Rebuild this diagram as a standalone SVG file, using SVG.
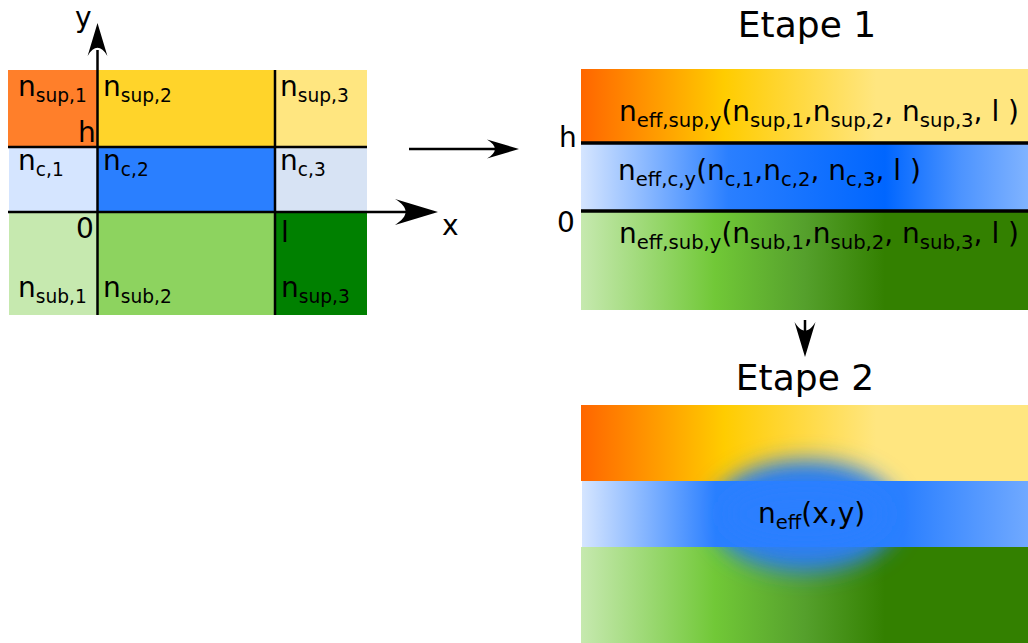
<svg xmlns="http://www.w3.org/2000/svg" xmlns:xlink="http://www.w3.org/1999/xlink" width="1028" height="643" viewBox="0 0 1028 643">
<style>
text{font-family:"DejaVu Sans",sans-serif;fill:#000}
.m{font-size:28px}
.s{font-size:18.6px}
.r{font-size:28px}
.rs{font-size:19.6px}
.t{font-size:36px}
.ln{stroke:#000;stroke-width:2.5;fill:none}
.thk{stroke:#000;stroke-width:3.6;fill:none}
</style>
<defs>
<path id="ah" d="M0,0 L-1,-0.3 C-0.67,-0.1 -0.67,0.1 -1,0.3 Z" fill="#000"/>
<linearGradient id="g1sup" x1="0" x2="1" y1="0" y2="0">
<stop offset="0" stop-color="#ff6600"/><stop offset="0.32" stop-color="#ffcc00"/><stop offset="0.66" stop-color="#ffe680"/><stop offset="1" stop-color="#ffe680"/>
</linearGradient>
<linearGradient id="g1c" x1="0" x2="1" y1="0" y2="0">
<stop offset="0" stop-color="#d5e5ff"/><stop offset="0.33" stop-color="#2a7fff"/><stop offset="0.68" stop-color="#0066ff"/><stop offset="0.85" stop-color="#4d94ff"/><stop offset="1" stop-color="#80b3ff"/>
</linearGradient>
<linearGradient id="g1sub" x1="0" x2="1" y1="0" y2="0">
<stop offset="0" stop-color="#c6e9af"/><stop offset="0.3" stop-color="#71c837"/><stop offset="0.5" stop-color="#55a02c"/><stop offset="0.68" stop-color="#338000"/><stop offset="1" stop-color="#338000"/>
</linearGradient>
<linearGradient id="g2c" x1="0" x2="1" y1="0" y2="0">
<stop offset="0" stop-color="#d5e5ff"/><stop offset="0.3" stop-color="#2a7fff"/><stop offset="0.72" stop-color="#2a7fff"/><stop offset="1" stop-color="#70a9ff"/>
</linearGradient>
<filter id="blur" x="-50%" y="-50%" width="200%" height="200%"><feGaussianBlur stdDeviation="11"/></filter>
</defs>
<rect width="1028" height="643" fill="#fff"/>

<g id="grid">
<rect x="8" y="70" width="89.5" height="77" fill="#ff7f2a"/>
<rect x="97.5" y="70" width="177.5" height="77" fill="#ffd42a"/>
<rect x="275" y="70" width="92" height="77" fill="#ffe680"/>
<rect x="9" y="147" width="88.5" height="65" fill="#d5e5ff"/>
<rect x="97.5" y="147" width="177.5" height="65" fill="#2a7fff"/>
<rect x="275" y="147" width="92" height="65" fill="#d7e3f4"/>
<rect x="9" y="212" width="88.5" height="103" fill="#c6e9af"/>
<rect x="97.5" y="212" width="177.5" height="103" fill="#8dd35f"/>
<rect x="275" y="212" width="92" height="103" fill="#008000"/>
<line class="ln" x1="8" y1="147" x2="367" y2="147"/>
<line class="ln" x1="275" y1="70" x2="275" y2="315"/>
<line class="ln" x1="97.5" y1="50" x2="97.5" y2="315"/>
<line class="ln" x1="8" y1="212" x2="410" y2="212"/>
<use xlink:href="#ah" transform="translate(97.5,23) rotate(-90) scale(33)"/>
<use xlink:href="#ah" transform="translate(438,212) scale(43)"/>
<text class="m" x="75" y="27">y</text>
<text class="m" x="442" y="235">x</text>
<text class="m" x="78" y="142">h</text>
<text class="m" x="76" y="238">0</text>
<text class="m" x="281" y="242">l</text>
<text class="m" x="18" y="96">n<tspan class="s" dy="6">sup,1</tspan></text>
<text class="m" x="103" y="96">n<tspan class="s" dy="6">sup,2</tspan></text>
<text class="m" x="280" y="96">n<tspan class="s" dy="6">sup,3</tspan></text>
<text class="m" x="18" y="170">n<tspan class="s" dy="6">c,1</tspan></text>
<text class="m" x="103" y="170">n<tspan class="s" dy="6">c,2</tspan></text>
<text class="m" x="280" y="170">n<tspan class="s" dy="6">c,3</tspan></text>
<text class="m" x="18" y="297">n<tspan class="s" dy="6">sub,1</tspan></text>
<text class="m" x="103" y="297">n<tspan class="s" dy="6">sub,2</tspan></text>
<text class="m" x="281" y="297">n<tspan class="s" dy="6">sup,3</tspan></text>
</g>

<g id="etape1">
<text class="t" x="807" y="37" text-anchor="middle">Etape 1</text>
<rect x="581" y="69" width="447" height="74" fill="url(#g1sup)"/>
<rect x="581" y="143" width="447" height="68" fill="url(#g1c)"/>
<rect x="581" y="211" width="447" height="99" fill="url(#g1sub)"/>
<line class="thk" x1="581" y1="143" x2="1028" y2="143"/>
<line class="thk" x1="581" y1="211" x2="1028" y2="211"/>
<text class="r" x="559" y="147">h</text>
<text class="r" x="557" y="232">0</text>
<text class="r" x="619" y="121">n<tspan class="rs" dy="6">eff,sup,y</tspan><tspan dy="-6">(n</tspan><tspan class="rs" dy="6">sup,1</tspan><tspan dy="-6">,n</tspan><tspan class="rs" dy="6">sup,2</tspan><tspan dy="-6">, n</tspan><tspan class="rs" dy="6">sup,3</tspan><tspan dy="-6">, l )</tspan></text>
<text class="r" x="618" y="180">n<tspan class="rs" dy="6">eff,c,y</tspan><tspan dy="-6">(n</tspan><tspan class="rs" dy="6">c,1</tspan><tspan dy="-6">,n</tspan><tspan class="rs" dy="6">c,2</tspan><tspan dy="-6">, n</tspan><tspan class="rs" dy="6">c,3</tspan><tspan dy="-6">, l )</tspan></text>
<text class="r" x="619" y="243">n<tspan class="rs" dy="6">eff,sub,y</tspan><tspan dy="-6">(n</tspan><tspan class="rs" dy="6">sub,1</tspan><tspan dy="-6">,n</tspan><tspan class="rs" dy="6">sub,2</tspan><tspan dy="-6">, n</tspan><tspan class="rs" dy="6">sub,3</tspan><tspan dy="-6">, l )</tspan></text>
</g>

<g id="etape2">
<text class="t" x="805" y="390" text-anchor="middle">Etape 2</text>
<rect x="581" y="405" width="447" height="76" fill="url(#g1sup)"/>
<rect x="581" y="547" width="447" height="96" fill="url(#g1sub)"/>
<ellipse cx="805" cy="516" rx="95" ry="56" fill="#2f7fe8" filter="url(#blur)"/>
<rect x="582" y="481" width="446" height="66" fill="url(#g2c)"/>
<ellipse cx="805" cy="514" rx="80" ry="30" fill="#2a7fff" filter="url(#blur)"/>
<text class="r" x="758" y="523">n<tspan class="rs" dy="6">eff</tspan><tspan dy="-6">(x,y)</tspan></text>
</g>

<g id="connectors">
<line class="ln" x1="409" y1="149" x2="500" y2="149" stroke-width="2"/>
<use xlink:href="#ah" transform="translate(519,149) scale(32)"/>
<line class="ln" x1="805" y1="320" x2="805" y2="340" stroke-width="2"/>
<use xlink:href="#ah" transform="translate(805,357) rotate(90) scale(35)"/>
</g>
</svg>
